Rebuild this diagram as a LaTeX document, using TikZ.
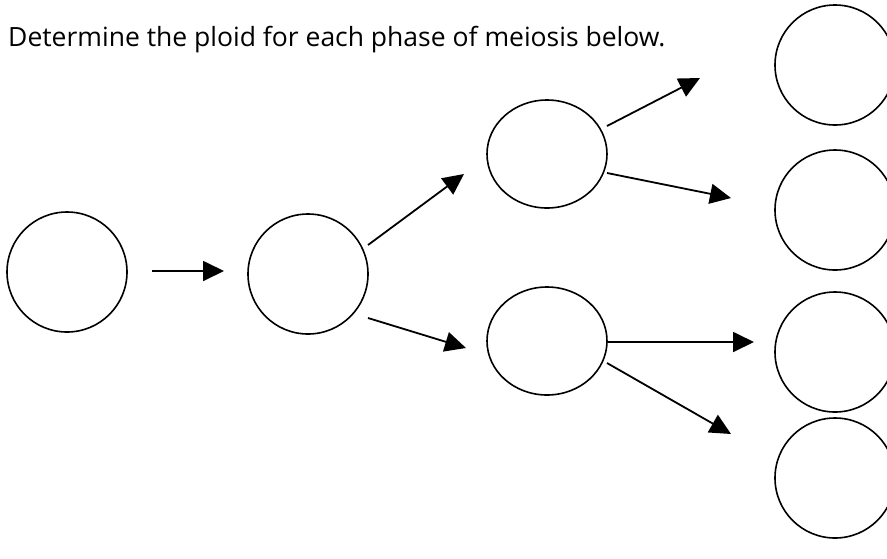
\documentclass[tikz,border=0pt]{standalone}
\usepackage{fontspec}
\setmainfont{Open Sans}
\usetikzlibrary{shapes.geometric,arrows.meta}
\begin{document}
\begin{tikzpicture}[x=1pt,y=-1pt,
  cell/.style={draw=black,line width=1.6pt,ellipse,inner sep=0pt,minimum width=120pt,minimum height=120pt},
  flat/.style={cell,minimum height=108pt},
  arr/.style={draw=black,line width=1.8pt,-{Triangle[length=21pt,width=20pt]}}]
\useasboundingbox (0,0) rectangle (887,558);
\clip (0,0) rectangle (887,558);
\node[anchor=base west,inner sep=0pt,font=\fontsize{26.5pt}{30pt}\selectfont] (title) at (8,46) {Determine the ploid for each phase of meiosis below.};
\node[cell] (c1) at (67,272) {};
\node[cell] (c2) at (308,274) {};
\node[flat] (c3) at (547,154) {};
\node[flat] (c4) at (547,341) {};
\node[cell] (r1) at (835,65) {};
\node[cell] (r2) at (835,210) {};
\node[cell] (r3) at (835,352) {};
\node[cell] (r4) at (835,478) {};
\coordinate (s1) at (152,271); \coordinate (e1) at (224,271);
\coordinate (s2) at (368,245); \coordinate (e2) at (464,174);
\coordinate (s3) at (368,318); \coordinate (e3) at (466,348);
\coordinate (s4) at (607,126); \coordinate (e4) at (700,78);
\coordinate (s5) at (607,173); \coordinate (e5) at (731,198);
\coordinate (s6) at (607,342); \coordinate (e6) at (754,342);
\coordinate (s7) at (607,363); \coordinate (e7) at (731,434);
\draw[arr] (s1) -- (e1);
\draw[arr] (s2) -- (e2);
\draw[arr] (s3) -- (e3);
\draw[arr] (s4) -- (e4);
\draw[arr] (s5) -- (e5);
\draw[arr] (s6) -- (e6);
\draw[arr] (s7) -- (e7);
\end{tikzpicture}
\end{document}
